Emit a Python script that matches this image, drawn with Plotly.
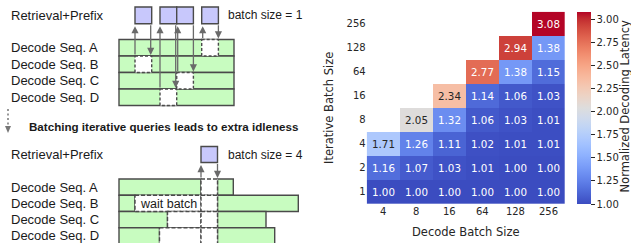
import plotly.graph_objects as go

# ---------------- heatmap data ----------------
decode_bs = ["4", "8", "16", "64", "128", "256"]
iter_bs = ["1", "2", "4", "8", "16", "64", "128", "256"]
row_1 = [1.00, 1.00, 1.00, 1.00, 1.00, 1.00]
row_2 = [1.16, 1.07, 1.03, 1.01, 1.00, 1.00]
row_4 = [1.71, 1.26, 1.11, 1.02, 1.01, 1.01]
row_8 = [None, 2.05, 1.32, 1.06, 1.03, 1.01]
row_16 = [None, None, 2.34, 1.14, 1.06, 1.03]
row_64 = [None, None, None, 2.77, 1.38, 1.15]
row_128 = [None, None, None, None, 2.94, 1.38]
row_256 = [None, None, None, None, None, 3.08]
z = [row_1, row_2, row_4, row_8, row_16, row_64, row_128, row_256]
cb_ticks = [1.00, 1.25, 1.50, 1.75, 2.00, 2.25, 2.50, 2.75, 3.00]

# ---------------- diagram labels ----------------
seq_labels = ["Decode Seq. A", "Decode Seq. B", "Decode Seq. C", "Decode Seq. D"]
stage_label = "Retrieval+Prefix"
batch1_label = "batch size = 1"
batch4_label = "batch size = 4"
middle_label = "Batching iterative queries leads to extra idleness"
wait_label = "wait batch"

# coolwarm colormap
cw = [(0, 59, 76, 192), (0.03125, 68, 90, 204), (0.0625, 77, 104, 215), (0.09375, 87, 117, 225),
      (0.125, 98, 130, 234), (0.15625, 108, 142, 241), (0.1875, 119, 154, 247), (0.21875, 130, 165, 251),
      (0.25, 141, 176, 254), (0.28125, 152, 185, 255), (0.3125, 163, 194, 255), (0.34375, 174, 201, 253),
      (0.375, 184, 208, 249), (0.40625, 194, 213, 244), (0.4375, 204, 217, 238), (0.46875, 213, 219, 230),
      (0.5, 221, 221, 221), (0.53125, 229, 216, 209), (0.5625, 236, 211, 197), (0.59375, 241, 204, 185),
      (0.625, 245, 196, 173), (0.65625, 247, 187, 160), (0.6875, 247, 177, 148), (0.71875, 247, 166, 135),
      (0.75, 244, 154, 123), (0.78125, 241, 141, 111), (0.8125, 236, 127, 99), (0.84375, 229, 112, 88),
      (0.875, 222, 96, 77), (0.90625, 213, 80, 66), (0.9375, 203, 62, 56), (0.96875, 192, 40, 47),
      (1.0, 180, 4, 38)]
colorscale = [[p, f"rgb({r},{g},{b})"] for p, r, g, b in cw]

zmin, zmax = 1.0, 3.08


def cmap(t):
    for i in range(len(cw) - 1):
        p0, *c0 = cw[i]
        p1, *c1 = cw[i + 1]
        if p0 <= t <= p1:
            f = (t - p0) / (p1 - p0) if p1 > p0 else 0
            return [c0[k] + f * (c1[k] - c0[k]) for k in range(3)]
    return list(cw[-1][1:])


def lum(rgb):
    out = []
    for c in rgb:
        c = c / 255
        out.append(c / 12.92 if c <= 0.04045 else ((c + 0.055) / 1.055) ** 2.4)
    return 0.2126 * out[0] + 0.7152 * out[1] + 0.0722 * out[2]


W, H = 631, 243
HM_FONT = "DejaVu Sans"
TXT = "#262626"


def px(x):
    return x / W


def py(y):
    return 1 - y / H


xi_idx = list(range(len(decode_bs)))
yi_idx = list(range(len(iter_bs)))

fig = go.Figure()
fig.add_trace(go.Heatmap(
    x=xi_idx, y=yi_idx, z=z, zmin=zmin, zmax=zmax, colorscale=colorscale,
    hoverinfo="skip",
    colorbar=dict(
        xref="paper", yref="paper", x=px(577.3), xanchor="left",
        y=py(204), yanchor="bottom", lenmode="pixels", len=192.3,
        thickness=14, outlinewidth=0, ticks="outside", ticklen=4, tickwidth=1,
        xpad=0, ypad=0,
        tickcolor=TXT, tickvals=cb_ticks, tickformat=".2f",
        tickfont=dict(family=HM_FONT, size=10, color=TXT),
    ),
))

annotations = []
for yi, row in enumerate(z):
    for xi, v in enumerate(row):
        if v is None:
            continue
        col = cmap((v - zmin) / (zmax - zmin))
        tc = TXT if lum(col) > 0.408 else "white"
        annotations.append(dict(x=xi_idx[xi], y=yi_idx[yi], xref="x", yref="y",
                                text=f"{v:.2f}", showarrow=False,
                                xanchor="center", yanchor="middle",
                                font=dict(family=HM_FONT, size=10.3, color=tc)))

annotations += [
    dict(x=px(329), y=py(108), xref="paper", yref="paper", text="Iterative Batch Size",
         textangle=-90, showarrow=False, xanchor="center", yanchor="middle",
         font=dict(family=HM_FONT, size=11.5, color=TXT)),
    dict(x=px(465.5), y=py(231.5), xref="paper", yref="paper", text="Decode Batch Size",
         showarrow=False, xanchor="center", yanchor="middle",
         font=dict(family=HM_FONT, size=11.5, color=TXT)),
    dict(x=px(625), y=py(106.5), xref="paper", yref="paper", text="Normalized Decoding Latency",
         textangle=-90, showarrow=False, xanchor="center", yanchor="middle",
         font=dict(family=HM_FONT, size=11.5, color=TXT)),
]

# ---------------- diagram (paper space, pixel helpers) ----------------
GREEN = "#c8fcc0"
PURPLE = "#c8c8fc"
EDGE = "#4a4a4a"
ARROW = "#6a6a6a"
LF = "Liberation Sans"
shapes = []


def rect(x0, y0, x1, y1, fill, dash="solid", color=EDGE, width=1.4):
    shapes.append(dict(type="rect", xref="paper", yref="paper", x0=px(x0), y0=py(y0),
                       x1=px(x1), y1=py(y1), fillcolor=fill,
                       line=dict(color=color, width=width, dash=dash), layer="above"))


def arrow(x, y_tail, y_head):
    annotations.append(dict(x=px(x), y=py(y_head), xref="paper", yref="paper",
                            ax=0, ay=y_tail - y_head, axref="pixel", ayref="pixel",
                            text="", showarrow=True, arrowhead=2,
                            arrowsize=1.1, arrowwidth=1.3, arrowcolor=ARROW, standoff=0,
                            startstandoff=0))


def label(x, y, text, size=13, bold=False, anchor="left"):
    annotations.append(dict(x=px(x), y=py(y), xref="paper", yref="paper",
                            text=f"<b>{text}</b>" if bold else text,
                            showarrow=False, xanchor=anchor, yanchor="middle",
                            font=dict(family=LF, size=size, color="#1a1a1a")))


# top diagram
top_rows = [39.5, 56, 72.5, 89, 105.5]
box_w = 16.7
top_boxes = [135, 160, 176.7, 201.7]
box_row = [1, 3, 2, 0]
bx_y0, bx_y1 = 7, 23.7
for i in range(4):
    rect(119, top_rows[i], 234, top_rows[i + 1], GREEN)
for b, r in zip(top_boxes, box_row):
    rect(b, top_rows[r], b + box_w, top_rows[r + 1], "white", dash="3px,2px")
for b, r in zip(top_boxes, box_row):
    rect(b, bx_y0, b + box_w, bx_y1, PURPLE)
    arrow(b + (1 if b > 170 else 0), top_rows[r], bx_y1 + 2.5)
    arrow(b + box_w - (1 if b < 170 else 0), bx_y1, top_rows[r] - 1)

label(9, 15, stage_label)
for i, t in enumerate(seq_labels):
    label(9, (top_rows[i] + top_rows[i + 1]) / 2, t)
label(226, 15, batch1_label, size=12)

# middle dashed arrow + text
shapes.append(dict(type="line", xref="paper", yref="paper", x0=px(8), x1=px(8), y0=py(109),
                   y1=py(127), line=dict(color="#777", width=1.5, dash="2px,2.5px"),
                   layer="above"))
shapes.append(dict(type="path", xref="paper", yref="paper",
                   path=f"M {px(5)},{py(126)} L {px(11)},{py(126)} L {px(8)},{py(133)} Z",
                   fillcolor="#777", line=dict(width=0), layer="above"))
label(27, 126.5, middle_label, size=11.6, bold=True)

# bottom diagram
bot_rows = [179, 195.3, 211.5, 227.7, 244]
bbx0, bbx1 = 201, 217.5
left_end = [201, 135, 167.5, 159.5]
right_end = [233.3, 298.3, 266, 274.7]
for i in range(4):
    rect(119, bot_rows[i], left_end[i], bot_rows[i + 1], GREEN)
    rect(bbx1, bot_rows[i], right_end[i], bot_rows[i + 1], GREEN)
for i in range(4):
    if left_end[i] < bbx0:
        rect(left_end[i], bot_rows[i], bbx0, bot_rows[i + 1], "white", dash="4px,2px")
    rect(bbx0, bot_rows[i], bbx1, bot_rows[i + 1], "white", dash="4px,2px")
rect(bbx0, 146.5, bbx1, 162.5, PURPLE)
arrow(bbx0, bot_rows[0], 162.5 + 2.5)
arrow(bbx1, 162.5, bot_rows[0] - 1)

label(9, 154.5, stage_label)
for i, t in enumerate(seq_labels):
    label(9, (bot_rows[i] + bot_rows[i + 1]) / 2, t)
label(226, 154.5, batch4_label, size=12)
label(168, 203.6, wait_label, size=12.5, anchor="center")

fig.update_layout(
    width=W, height=H, margin=dict(l=0, r=0, t=0, b=0, autoexpand=False),
    paper_bgcolor="white", plot_bgcolor="white", showlegend=False,
    xaxis=dict(domain=[px(366.7), px(565)], range=[-0.5, len(decode_bs) - 0.5],
               tickvals=xi_idx, ticktext=decode_bs, showgrid=False, zeroline=False,
               ticks="", showline=False, automargin=False,
               tickfont=dict(family=HM_FONT, size=10, color=TXT), fixedrange=True),
    yaxis=dict(domain=[py(204), py(11.7)], range=[-0.5, len(iter_bs) - 0.5],
               tickvals=yi_idx, ticktext=iter_bs, showgrid=False, automargin=False,
               zeroline=False, ticks="", showline=False,
               tickfont=dict(family=HM_FONT, size=10, color=TXT), fixedrange=True),
    shapes=shapes, annotations=annotations,
)

fig.write_html("out.html", config={"displayModeBar": False},
               post_script="document.body.style.margin='0';document.body.style.padding='0';")
